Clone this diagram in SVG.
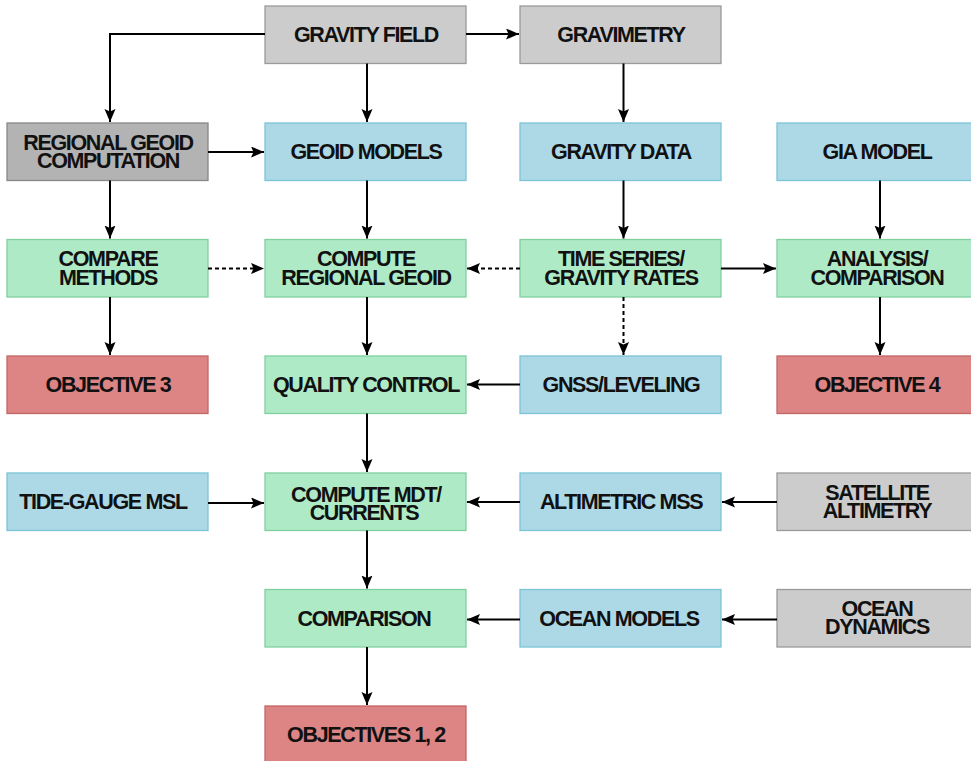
<svg xmlns="http://www.w3.org/2000/svg" width="971" height="761" viewBox="0 0 971 761">
<style>
rect{stroke-width:1.3}
.g{fill:#cccccc;stroke:#9a9a9a}
.dg{fill:#b3b3b3;stroke:#888888}
.b{fill:#add8e6;stroke:#7cc4d8}
.gr{fill:#aeeac6;stroke:#80cf9e}
.r{fill:#dd8484;stroke:#c46666}
text{font-family:"Liberation Sans",Arial,sans-serif;font-weight:bold;font-size:21.5px;letter-spacing:-1.35px;text-anchor:middle;fill:#111}
.c path{fill:none;stroke:#000;stroke-width:2}
.c .d{stroke-dasharray:4 3}
</style>
<defs>
<marker id="ah" markerUnits="userSpaceOnUse" markerWidth="14" markerHeight="12" refX="13" refY="5.5" orient="auto">
<path d="M0,0 L13,5.5 L0,11 L2.5,5.5 Z" fill="#000"/>
</marker>
</defs>
<g id="gravity-field"><rect class="g" x="265" y="6" width="201" height="57.5"/><text x="366" y="42">GRAVITY FIELD</text></g>
<g id="gravimetry"><rect class="g" x="520" y="6" width="201" height="57.5"/><text x="621" y="42">GRAVIMETRY</text></g>
<g id="regional-geoid-computation"><rect class="dg" x="7" y="123" width="201" height="57.5"/><text x="108" y="149.5">REGIONAL GEOID<tspan x="108" y="167.5">COMPUTATION</tspan></text></g>
<g id="geoid-models"><rect class="b" x="265" y="123" width="201" height="57.5"/><text x="366" y="159">GEOID MODELS</text></g>
<g id="gravity-data"><rect class="b" x="520" y="123" width="201" height="57.5"/><text x="621" y="159">GRAVITY DATA</text></g>
<g id="gia-model"><rect class="b" x="777" y="123" width="201" height="57.5"/><text x="877" y="159">GIA MODEL</text></g>
<g id="compare-methods"><rect class="gr" x="7" y="239.5" width="201" height="57.5"/><text x="108" y="266">COMPARE<tspan x="108" y="284.5">METHODS</tspan></text></g>
<g id="compute-regional-geoid"><rect class="gr" x="265" y="239.5" width="201" height="57.5"/><text x="366" y="266">COMPUTE<tspan x="366" y="284.5">REGIONAL GEOID</tspan></text></g>
<g id="time-series"><rect class="gr" x="520" y="239.5" width="201" height="57.5"/><text x="621" y="266">TIME SERIES/<tspan x="621" y="284.5">GRAVITY RATES</tspan></text></g>
<g id="analysis-comparison"><rect class="gr" x="777" y="239.5" width="201" height="57.5"/><text x="877" y="266">ANALYSIS/<tspan x="877" y="284.5">COMPARISON</tspan></text></g>
<g id="objective-3"><rect class="r" x="7" y="356" width="201" height="57.5"/><text x="108" y="392">OBJECTIVE 3</text></g>
<g id="quality-control"><rect class="gr" x="265" y="356" width="201" height="57.5"/><text x="366" y="392">QUALITY CONTROL</text></g>
<g id="gnss-leveling"><rect class="b" x="520" y="356" width="201" height="57.5"/><text x="621" y="392">GNSS/LEVELING</text></g>
<g id="objective-4"><rect class="r" x="777" y="356" width="201" height="57.5"/><text x="877" y="392">OBJECTIVE 4</text></g>
<g id="tide-gauge-msl"><rect class="b" x="7" y="473" width="201" height="57.5"/><text x="103" y="509">TIDE-GAUGE MSL</text></g>
<g id="compute-mdt"><rect class="gr" x="265" y="473" width="201" height="57.5"/><text x="366" y="502">COMPUTE MDT/<tspan x="364" y="519.5">CURRENTS</tspan></text></g>
<g id="altimetric-mss"><rect class="b" x="520" y="473" width="201" height="57.5"/><text x="621" y="509">ALTIMETRIC MSS</text></g>
<g id="satellite-altimetry"><rect class="g" x="777" y="473" width="201" height="57.5"/><text x="877" y="500">SATELLITE<tspan x="877" y="517.5">ALTIMETRY</tspan></text></g>
<g id="comparison"><rect class="gr" x="265" y="589.5" width="201" height="57.5"/><text x="364" y="625.5">COMPARISON</text></g>
<g id="ocean-models"><rect class="b" x="520" y="589.5" width="201" height="57.5"/><text x="619" y="625.5">OCEAN MODELS</text></g>
<g id="ocean-dynamics"><rect class="g" x="777" y="589.5" width="201" height="57.5"/><text x="877" y="616">OCEAN<tspan x="877" y="633.5">DYNAMICS</tspan></text></g>
<g id="objectives-1-2"><rect class="r" x="265" y="706" width="201" height="57.5"/><text x="366" y="742">OBJECTIVES 1, 2</text></g>
<g id="connectors" class="c">
<path d="M265,34 H110 V122" marker-end="url(#ah)"/>
<path d="M466,34 H519" marker-end="url(#ah)"/>
<path d="M367,63.5 V122" marker-end="url(#ah)"/>
<path d="M208,152 H264" marker-end="url(#ah)"/>
<path d="M623.5,63.5 V122" marker-end="url(#ah)"/>
<path d="M880,180.5 V238.5" marker-end="url(#ah)"/>
<path d="M110,180.5 V238.5" marker-end="url(#ah)"/>
<path d="M367,180.5 V238.5" marker-end="url(#ah)"/>
<path d="M623.5,180.5 V238.5" marker-end="url(#ah)"/>
<path class="d" d="M208,268.5 H264" marker-end="url(#ah)"/>
<path class="d" d="M520,268.5 H467" marker-end="url(#ah)"/>
<path d="M721,268.5 H776" marker-end="url(#ah)"/>
<path class="d" d="M623.5,297 V355" marker-end="url(#ah)"/>
<path d="M110,297 V355" marker-end="url(#ah)"/>
<path d="M367,297 V355" marker-end="url(#ah)"/>
<path d="M880,297 V355" marker-end="url(#ah)"/>
<path d="M520,384.5 H467" marker-end="url(#ah)"/>
<path d="M367,413.5 V472" marker-end="url(#ah)"/>
<path d="M208,503 H264" marker-end="url(#ah)"/>
<path d="M520,502 H467" marker-end="url(#ah)"/>
<path d="M777,502 H722" marker-end="url(#ah)"/>
<path d="M367,530.5 V588.5" marker-end="url(#ah)"/>
<path d="M520,619.5 H467" marker-end="url(#ah)"/>
<path d="M777,619.5 H722" marker-end="url(#ah)"/>
<path d="M367,647 V705" marker-end="url(#ah)"/>
</g>
</svg>
